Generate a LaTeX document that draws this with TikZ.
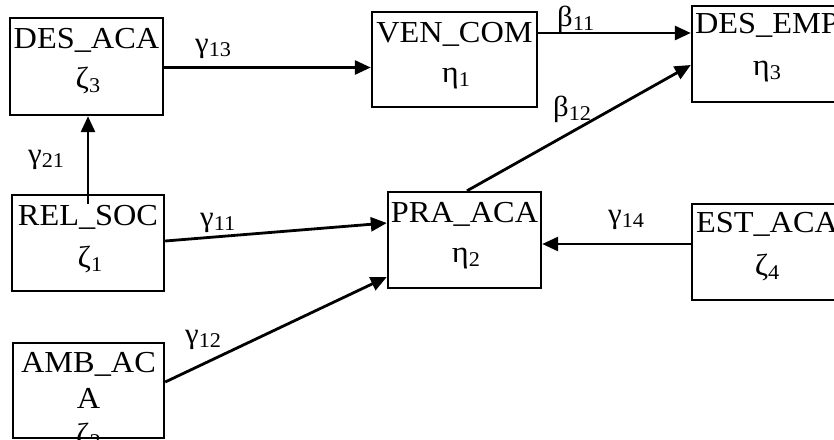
\documentclass[tikz,border=0pt]{standalone}
\usepackage{fontspec}
\setmainfont{Liberation Serif}[FakeStretch=1.06]
\usetikzlibrary{arrows.meta}
\newcommand{\mysub}[1]{\raisebox{-4pt}{\fontsize{21}{21}\selectfont #1}}
\tikzset{
  box/.style={draw, line width=2.4pt, rectangle, inner sep=0pt},
  arr/.style={line width=2.8pt, -{Triangle[length=16pt,width=14pt]}},
  txt/.style={anchor=base, inner sep=0pt, font=\fontsize{30.5}{30}\selectfont},
  lbl/.style={anchor=base west, inner sep=0pt, font=\fontsize{29}{29}\selectfont},
}
\begin{document}
\begin{tikzpicture}[x=1pt,y=-1pt]
\useasboundingbox (0,0) rectangle (834,439);
\fill[white] (0,0) rectangle (834,439);
\clip (0,0) rectangle (834,439);
% boxes
\node[box, minimum width=153pt, minimum height=97pt] (desaca) at (86.5,66.5) {};
\node[box, minimum width=165pt, minimum height=95pt] (vencom) at (454.5,59.5) {};
\node[box, minimum width=150pt, minimum height=96pt] (desemp) at (767,54) {};
\node[box, minimum width=152pt, minimum height=96pt] (relsoc) at (88,243) {};
\node[box, minimum width=153pt, minimum height=96pt] (praaca) at (464.5,240) {};
\node[box, minimum width=150pt, minimum height=96pt] (estaca) at (767,252) {};
\node[box, minimum width=151pt, minimum height=95pt] (ambaca) at (88.5,390.5) {};
% box texts
\node[txt] (desaca1) at (86.5,48) {DES\_ACA};
\node[txt] (desaca2) at (88,88) {ζ\mysub{3}};
\node[txt] (vencom1) at (454.5,42) {VEN\_COM};
\node[txt] (vencom2) at (456,82) {η\mysub{1}};
\node[txt] (desemp1) at (767,33) {DES\_EMP};
\node[txt] (desemp2) at (767,75) {η\mysub{3}};
\node[txt] (relsoc1) at (88,225) {REL\_SOC};
\node[txt] (relsoc2) at (90,267) {ζ\mysub{1}};
\node[txt] (praaca1) at (464.5,222) {PRA\_ACA};
\node[txt] (praaca2) at (466,262) {η\mysub{2}};
\node[txt] (estaca1) at (767,232) {EST\_ACA};
\node[txt] (estaca2) at (767,275) {ζ\mysub{4}};
\node[txt] (ambaca1) at (88.5,372) {AMB\_AC};
\node[txt] (ambaca2) at (88.5,408) {A};
\begin{scope}
\clip (ambaca.north west) rectangle (ambaca.south east);
\node[txt] (ambaca3) at (88.5,444) {ζ\mysub{2}};
\end{scope}
% connectors
\draw[arr] ([yshift=-1pt]desaca.east) -- ([yshift=-1pt]desaca.east -| vencom.west);
\draw[arr] ([yshift=26.5pt]vencom.east) -- ([yshift=21pt]desemp.west);
\draw[arr] ([xshift=2.5pt]praaca.north) -- ([yshift=-11pt]desemp.west);
\draw[arr] ([yshift=-10pt]relsoc.north) -- ([xshift=1.5pt]desaca.south);
\draw[arr] ([yshift=2pt]relsoc.east) -- ([yshift=17pt]praaca.west);
\draw[arr] ([yshift=8.5pt]ambaca.east) -- ([yshift=-37pt]praaca.west);
\draw[arr] ([yshift=8pt]estaca.west) -- ([yshift=-4pt]praaca.east);
% labels
\node[lbl] (g13) at (195,52) {γ\mysub{13}};
\node[lbl] (b11) at (557,26) {β\mysub{11}};
\node[lbl] (b12) at (553,116) {β\mysub{12}};
\node[lbl] (g21) at (28,163) {γ\mysub{21}};
\node[lbl] (g11) at (200,226) {γ\mysub{11}};
\node[lbl] (g12) at (185,343) {γ\mysub{12}};
\node[lbl] (g14) at (608,223) {γ\mysub{14}};
\end{tikzpicture}
\end{document}
